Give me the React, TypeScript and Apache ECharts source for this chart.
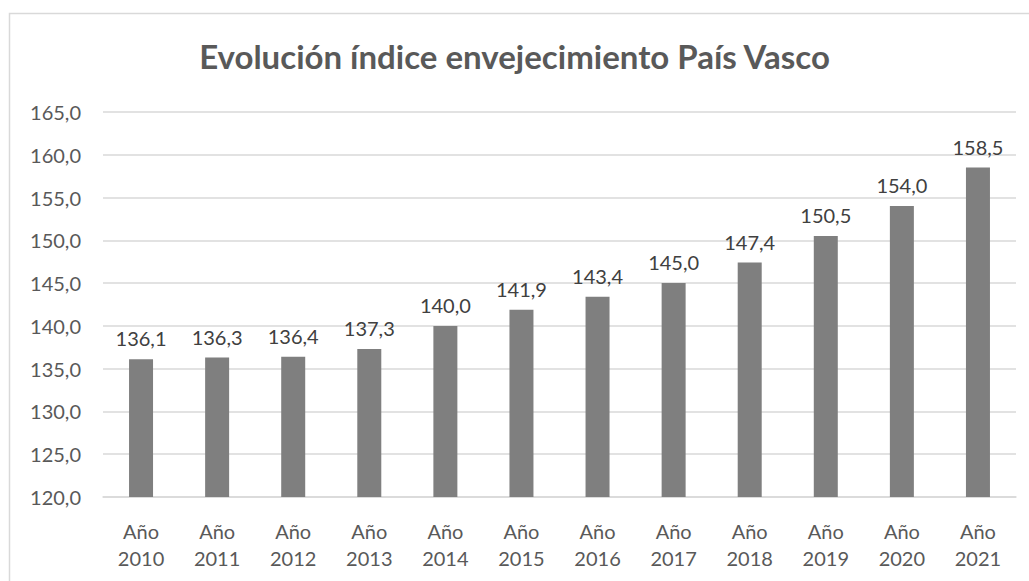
import React, { useEffect, useRef } from "react";
import * as echarts from "echarts";

const categories = ["Año\n2010", "Año\n2011", "Año\n2012", "Año\n2013", "Año\n2014", "Año\n2015", "Año\n2016", "Año\n2017", "Año\n2018", "Año\n2019", "Año\n2020", "Año\n2021"];
const values = [136.1, 136.3, 136.4, 137.3, 140.0, 141.9, 143.4, 145.0, 147.4, 150.5, 154.0, 158.5];
const titleText = "Evolución índice envejecimiento País Vasco";

const fmt = (v: number) => v.toFixed(1).replace(".", ",");

export default function App() {
  const ref = useRef<HTMLDivElement>(null);
  useEffect(() => {
    if (!ref.current) return;
    const chart = echarts.init(ref.current, null, { renderer: "svg" });
    const font = "Lato, 'Open Sans', sans-serif";
    chart.setOption({
      animation: false,
      backgroundColor: "#ffffff",
      textStyle: { fontFamily: font },
      title: {
        text: titleText,
        left: "center",
        top: 34,
        textStyle: { fontFamily: font, fontSize: 33, fontWeight: "bold", color: "#595959" },
      },
      graphic: [
        {
          type: "rect",
          shape: { x: 9.5, y: 13.5, width: 1060, height: 620 },
          style: { fill: "none", stroke: "#d9d9d9", lineWidth: 1.5 },
          silent: true,
        },
      ],
      grid: { left: 103, right: 13, top: 112, bottom: 84 },
      xAxis: {
        type: "category",
        data: categories,
        axisLine: { show: true, lineStyle: { color: "#d9d9d9", width: 1.5 } },
        axisTick: { show: false },
        axisLabel: { color: "#595959", fontSize: 20, lineHeight: 27, margin: 20, fontFamily: font },
      },
      yAxis: {
        type: "value",
        min: 120,
        max: 165,
        interval: 5,
        axisLine: { show: false },
        axisTick: { show: false },
        splitLine: { lineStyle: { color: "#d9d9d9", width: 1.5 } },
        axisLabel: { color: "#595959", fontSize: 20, margin: 22, fontFamily: font, formatter: (v: number) => fmt(v) },
      },
      series: [
        {
          type: "bar",
          data: values,
          barWidth: 24,
          itemStyle: { color: "#7f7f7f" },
          label: {
            show: true,
            position: "top",
            distance: 11,
            color: "#404040",
            fontSize: 20,
            fontFamily: font,
            formatter: (p: any) => fmt(p.value),
          },
        },
      ],
    });
    return () => chart.dispose();
  }, []);
  return <div ref={ref} style={{ position: "fixed", left: 0, top: 0, width: 1029, height: 581 }} />;
}
